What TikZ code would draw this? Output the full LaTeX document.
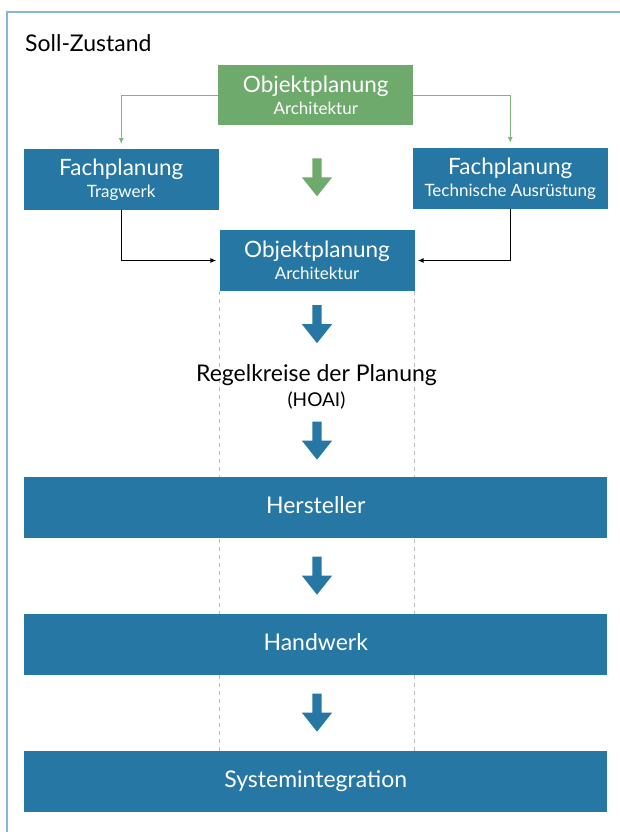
\documentclass[tikz,border=0pt]{standalone}
\usepackage{fontspec}
\setmainfont{Lato}
\usetikzlibrary{arrows.meta,shapes.arrows,backgrounds}
\definecolor{planblue}{HTML}{2677A3}
\definecolor{plangreen}{HTML}{6EAA6C}
\definecolor{linkgreen}{HTML}{7DB87B}
\definecolor{frameblue}{HTML}{86B8CF}
\definecolor{dashgray}{HTML}{BDBDBD}
\tikzset{
    plan-box/.style = {fill=planblue, text=white, rectangle, minimum width=195pt, minimum height=60.5pt, inner sep=0pt, align=center, font=\fontsize{22.5}{22}\selectfont},
    plan-box-green/.style = {plan-box, fill=plangreen},
    wide-box/.style = {plan-box, minimum width=583pt, text height=17pt, text depth=5pt, font=\fontsize{23}{23}\selectfont},
    flow-arrow/.style = {single arrow, fill=planblue, shape border rotate=270, inner sep=4.5pt, minimum height=38pt, minimum width=30pt, single arrow head extend=10.5pt, single arrow tip angle=77, anchor=tip},
    green-link/.style = {draw=linkgreen, line width=1.3pt, -{Latex[length=6pt,width=5pt]}, shorten >=5pt},
    black-link/.style = {draw=black, line width=1.2pt, -{Latex[length=6pt,width=5pt]}, shorten >=3pt},
}
\newcommand{\subline}{\fontsize{17}{22}\selectfont}

\begin{document}
\begin{tikzpicture}[x=1pt, y=-1pt]
\useasboundingbox (0,0) rectangle (620,832);
\draw[frameblue, line width=1.5pt] (7,832) -- (7,12) -- (620,12);
\node[anchor=base west, inner sep=0pt, font=\fontsize{23}{23}\selectfont] (title) at (25,52) {Soll-Zustand};

\node[plan-box-green] (obj-plan) at (315.75,95.25) {Objektplanung\\\subline Architektur};
\node[plan-box] (fp-tragwerk) at (121.25,179.5) {Fachplanung\\\subline Tragwerk};
\node[plan-box] (fp-tga) at (510.25,178.5) {Fachplanung\\\subline Technische Ausrüstung};
\node[plan-box] (obj-arch) at (317,260.5) {Objektplanung\\\subline Architektur};

\node[align=center, font=\fontsize{23}{25}\selectfont] (regelkreise) at (316.5,387) {Regelkreise der Planung\\\fontsize{19}{25}\selectfont(HOAI)};

\node[wide-box] (hersteller) at (315.75,507.25) {Hersteller};
\node[wide-box] (handwerk) at (315.75,644.25) {Handwerk};
\node[wide-box] (sysint) at (315.75,781.5) {Systemintegration};

% connectors
\draw[green-link] (obj-plan.west) -| (fp-tragwerk.north);
\draw[green-link] (obj-plan.east) -| (fp-tga.north);
\draw[black-link] (fp-tragwerk.south) |- (obj-arch.west);
\draw[black-link] (fp-tga.south) |- (obj-arch.east);

% flow arrows
\node[flow-arrow, fill=plangreen] (arrow-green) at (317,196.7) {};
\node[flow-arrow] (arrow-arch) at (317,343.5) {};
\node[flow-arrow] (arrow-hoai) at (317,460) {};
\node[flow-arrow] (arrow-herst) at (317,595) {};
\node[flow-arrow] (arrow-handw) at (317,732) {};

\begin{scope}[on background layer]
\draw[dashgray, line width=0.8pt, dash pattern=on 4pt off 4pt] (obj-arch.south west) -- (obj-arch.south west |- sysint.north);
\draw[dashgray, line width=0.8pt, dash pattern=on 4pt off 4pt] (obj-arch.south east) -- (obj-arch.south east |- sysint.north);
\end{scope}
\end{tikzpicture}
\end{document}
